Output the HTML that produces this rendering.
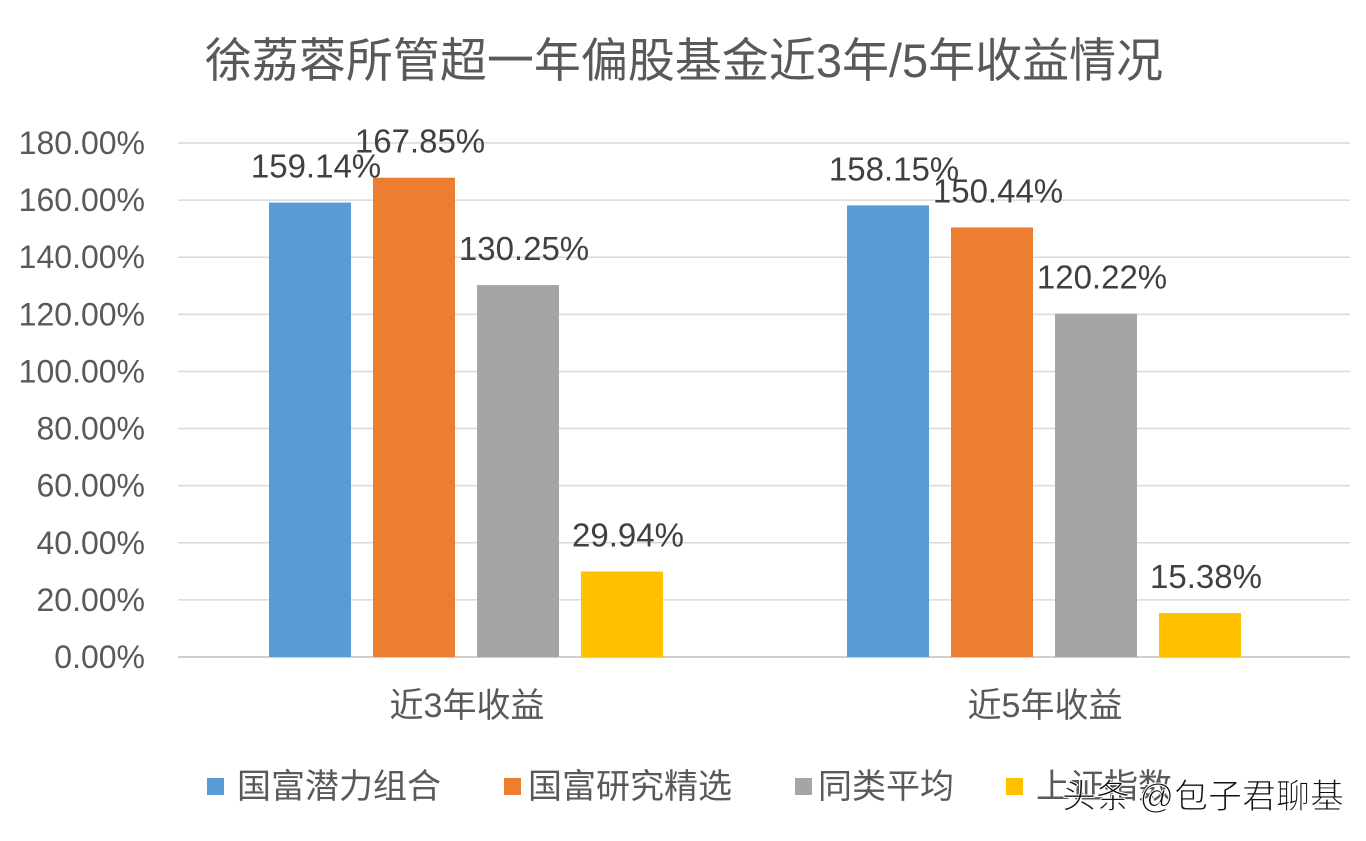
<!DOCTYPE html>
<html><head><meta charset="utf-8"><style>
body{margin:0;background:#fff;}
svg text{font-family:"Liberation Sans","Noto Sans CJK SC",sans-serif;}
</style></head><body>
<svg width="1366" height="836" xmlns="http://www.w3.org/2000/svg">
<rect width="1366" height="836" fill="#fff"/>
<text x="684" y="77" font-size="47" fill="#595959" text-anchor="middle">徐荔蓉所管超一年偏股基金近3年/5年收益情况</text>
<g id="grid"></g><g id="bars"></g><g id="labels"></g>
<g font-size="34" fill="#595959">
<rect x="207" y="778" width="17" height="17" fill="#5b9bd5"/><text x="237" y="798">国富潜力组合</text>
<rect x="504" y="778" width="17" height="17" fill="#ed7d31"/><text x="528" y="798">国富研究精选</text>
<rect x="795" y="778" width="17" height="17" fill="#a5a5a5"/><text x="818" y="798">同类平均</text>
<rect x="1006" y="778" width="17" height="17" fill="#ffc000"/><text x="1036" y="798">上证指数</text>
</g>
<text x="1062" y="808" font-size="34" fill="#111" stroke="#fff" stroke-width="1">头条 @包子君聊基</text>
</svg>
<script>
const categories=["近3年收益","近5年收益"];
const seriesNames=["国富潜力组合","国富研究精选","同类平均","上证指数"];
const s1=[159.14,158.15];
const s2=[167.85,150.44];
const s3=[130.25,120.22];
const s4=[29.94,15.38];
const ticks=[0,20,40,60,80,100,120,140,160,180];
const colors=["#5b9bd5","#ed7d31","#a5a5a5","#ffc000"];
const NS="http://www.w3.org/2000/svg";
const y=v=>657-v*(514/180);
const groupX=i=>178+i*578;
const barX=(g,s)=>groupX(g)+91+s*104;
const bw=82;
function mk(tag,attrs,parent){const e=document.createElementNS(NS,tag);for(const k in attrs)e.setAttribute(k,attrs[k]);parent.appendChild(e);return e;}
const grid=document.getElementById('grid'),bars=document.getElementById('bars'),labels=document.getElementById('labels');
ticks.forEach(t=>{
 const l=mk('line',{x1:178,x2:1350,y1:y(t),y2:y(t),stroke:t===0?'#bfbfbf':'#d9d9d9','stroke-width':1.5},grid);
 
 
 const tx=mk('text',{x:145,y:y(t)+11,'font-size':32,fill:'#595959','text-anchor':'end'},grid);
 tx.textContent=t.toFixed(2)+'%';
 
 
});
const series=[s1,s2,s3,s4];
categories.forEach((c,g)=>{
 series.forEach((arr,s)=>{
  const v=arr[g];
  const r=mk('rect',{x:barX(g,s),y:y(v),width:bw,height:657-y(v),fill:colors[s]},bars);
  
  
  const t=mk('text',{x:barX(g,s)+bw/2+6,y:y(v)-25,'font-size':33,fill:'#404040','text-anchor':'middle'},labels);
  t.textContent=v.toFixed(2)+'%';
  
  
 });
 const ct=mk('text',{x:groupX(g)+289,y:717,'font-size':34,fill:'#595959','text-anchor':'middle'},labels);
 ct.textContent=c;
 
 
});
</script>
</body></html>
